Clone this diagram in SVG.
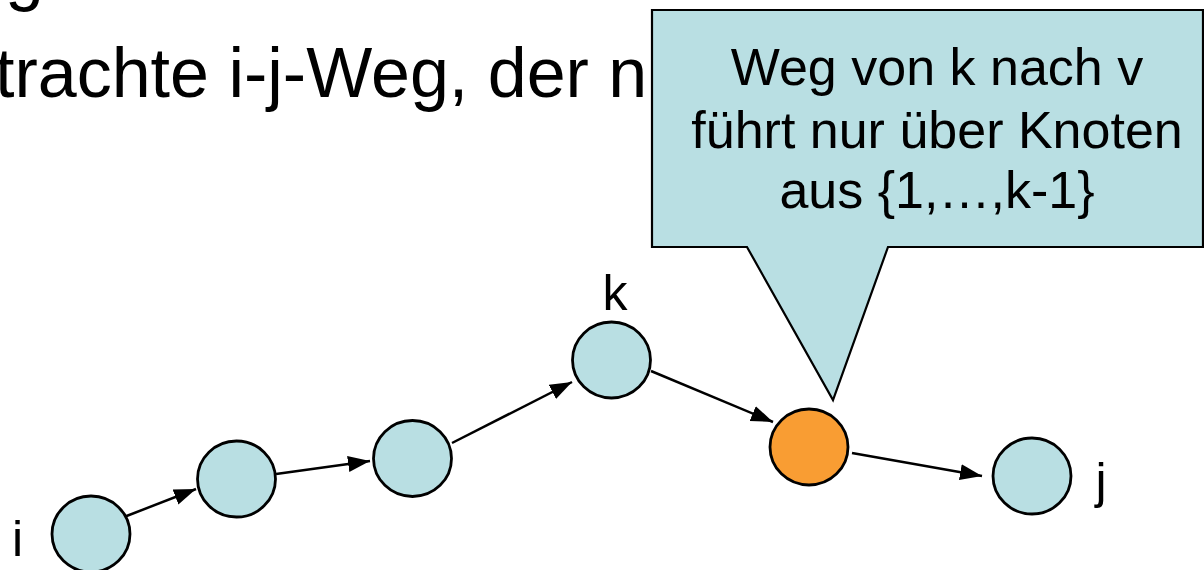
<svg xmlns="http://www.w3.org/2000/svg" width="1204" height="570" viewBox="0 0 1204 570">
<style>
text{font-family:"Liberation Sans",Arial,sans-serif;fill:#000}
.n{fill:#B9DFE3;stroke:#000;stroke-width:2.8}
.v{fill:#F99D33;stroke:#000;stroke-width:2.8}
.e{stroke:#000;stroke-width:2.5;fill:none;marker-end:url(#ah)}
.lbl{font-size:50px}
.co{font-size:52px;text-anchor:middle}
.t{font-size:70px}
</style>
<defs>
<marker id="ah" markerUnits="userSpaceOnUse" markerWidth="24" markerHeight="18" refX="22" refY="9" orient="auto">
<path d="M0,1 L22,9 L0,17 z" fill="#000"/>
</marker>
</defs>
<g id="title">
<text class="t" x="5" y="-3">g</text>
<text class="t" x="-5" y="97">trachte i-j-Weg, der n</text>
</g>
<g id="connectors">
<line class="e" x1="124" y1="517" x2="196" y2="489"/>
<line class="e" x1="276" y1="474" x2="370" y2="461"/>
<line class="e" x1="452" y1="443" x2="572" y2="382"/>
<line class="e" x1="651" y1="371" x2="773" y2="422"/>
<line class="e" x1="852" y1="453" x2="982" y2="476"/>
</g>
<g id="node-i"><ellipse class="n" cx="91" cy="534" rx="39" ry="38"/><text class="lbl" x="12" y="556">i</text></g>
<g id="node-2"><ellipse class="n" cx="236.5" cy="479" rx="39" ry="38"/></g>
<g id="node-3"><ellipse class="n" cx="412.5" cy="458.5" rx="39" ry="38"/></g>
<g id="node-k"><ellipse class="n" cx="611.5" cy="360" rx="39" ry="38"/><text class="lbl" x="615" y="310" text-anchor="middle">k</text></g>
<g id="node-v"><ellipse class="v" cx="809" cy="447" rx="39" ry="38"/></g>
<g id="node-j"><ellipse class="n" cx="1032" cy="476" rx="39" ry="38"/><text class="lbl" x="1101" y="498" text-anchor="middle">j</text></g>
<g id="callout">
<path d="M652,10 L1203,10 L1203,247 L888,247 L833,400 L747,247 L652,247 Z" fill="#B9DFE3" stroke="#000" stroke-width="2.2"/>
<text class="co" x="937" y="85">Weg von k nach v</text>
<text class="co" x="937" y="148">führt nur über Knoten</text>
<text class="co" x="937" y="208">aus {1,…,k-1}</text>
</g>
</svg>
